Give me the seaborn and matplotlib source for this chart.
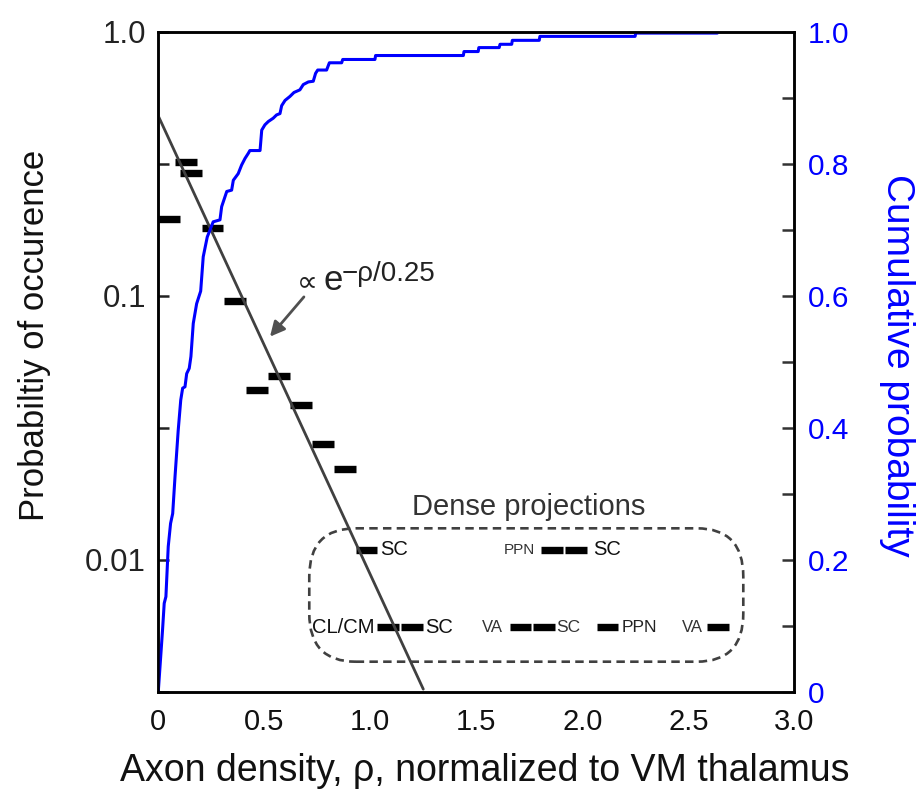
import numpy as np
import matplotlib
matplotlib.use("Agg")
import matplotlib.pyplot as plt
import seaborn as sns
from matplotlib.patches import FancyBboxPatch
from matplotlib.ticker import NullLocator

# ---- histogram of axon densities (probability per 0.1 bin) ----
hist_rho = [0.051, 0.130, 0.153, 0.256, 0.362, 0.465, 0.570, 0.672, 0.776, 0.880]
hist_prob = [0.196, 0.322, 0.291, 0.180, 0.0955, 0.0439, 0.0496, 0.0385, 0.0274, 0.0220]

# ---- dense projections (rare, high-density bins) ----
dense_rho = [0.983, 1.857, 1.971, 1.085, 1.197, 1.708, 1.819, 2.119, 2.641]
dense_prob = [0.0109, 0.0109, 0.0109, 0.00555, 0.00555, 0.00555, 0.00555, 0.00555, 0.00555]
bar_width = 0.102

# region labels placed beside the dense bars: text, rho anchor, prob level, alignment, size, colour
dense_text = ["SC", "PPN", "SC", "CL/CM", "SC", "VA", "SC", "PPN", "VA"]
dense_text_rho = [1.046, 1.777, 2.049, 1.022, 1.258, 1.627, 1.879, 2.186, 2.571]
dense_text_prob = [0.0109, 0.0109, 0.0109, 0.00555, 0.00555, 0.00555, 0.00555, 0.00555, 0.00555]
dense_text_ha = ["left", "right", "left", "right", "left", "right", "left", "left", "right"]
dense_text_size = [14.5, 11, 14.5, 14.5, 14.5, 12, 12.5, 12.5, 12]
dense_text_color = ["#111111", "#333333", "#111111", "#111111", "#111111", "#333333", "#333333", "#222222", "#333333"]

# ---- cumulative distribution ----
cdf_rho = [0.0, 0.020, 0.028, 0.036, 0.047, 0.058, 0.068, 0.079, 0.094, 0.106, 0.115,
           0.126, 0.134, 0.146, 0.154, 0.165, 0.181, 0.200, 0.212, 0.231, 0.259, 0.291,
           0.299, 0.323, 0.346, 0.354, 0.377, 0.393, 0.409, 0.425, 0.432, 0.480, 0.488,
           0.503, 0.519, 0.542, 0.558, 0.574, 0.582, 0.598, 0.621, 0.640, 0.668, 0.684,
           0.708, 0.731, 0.742, 0.752, 0.794, 0.807, 0.865, 0.870, 1.022, 1.025, 1.439,
           1.442, 1.509, 1.512, 1.608, 1.612, 1.667, 1.670, 1.797, 1.800, 2.249, 2.252,
           2.637]
cdf_val = [0.0, 0.093, 0.134, 0.144, 0.220, 0.255, 0.270, 0.326, 0.396, 0.442, 0.460,
           0.462, 0.482, 0.490, 0.508, 0.558, 0.588, 0.607, 0.659, 0.689, 0.712, 0.715,
           0.735, 0.758, 0.760, 0.775, 0.785, 0.798, 0.808, 0.816, 0.820, 0.820, 0.851,
           0.859, 0.864, 0.869, 0.874, 0.876, 0.888, 0.896, 0.902, 0.908, 0.912, 0.920,
           0.924, 0.925, 0.937, 0.942, 0.942, 0.953, 0.953, 0.958, 0.958, 0.964, 0.964,
           0.970, 0.970, 0.976, 0.976, 0.981, 0.981, 0.987, 0.987, 0.993, 0.993, 0.998,
           0.998]

# ---- exponential fit, prob ~ exp(-rho / 0.25) ----
fit_tau = 0.25
fit_amp = 0.48
fit_rho = np.linspace(0.0, 1.25, 60)
fit_prob = fit_amp * np.exp(-fit_rho / fit_tau)

sns.set_theme(style="white")
plt.rcParams["font.family"] = ["Liberation Sans", "DejaVu Sans"]

fig = plt.figure(figsize=(9.17, 7.90), dpi=100)
ax = fig.add_axes([0.1726, 0.1244, 0.6936, 0.8354])
ax.set_yscale("log")
ax.set_xlim(0, 3.0)
ax.set_ylim(10 ** -2.5, 1.0)

# histogram bars as short thick horizontal segments
all_rho = np.array(hist_rho + dense_rho)
all_prob = np.array(hist_prob + dense_prob)
ax.hlines(all_prob, all_rho - bar_width / 2, all_rho + bar_width / 2,
          colors="black", linewidth=5.3, zorder=3)

sns.lineplot(x=fit_rho, y=fit_prob, ax=ax, color="#404040", linewidth=2.0,
             sort=False, estimator=None, zorder=4)

for t, xr, yp, ha, fs, c in zip(dense_text, dense_text_rho, dense_text_prob,
                                dense_text_ha, dense_text_size, dense_text_color):
    ax.text(xr, yp, t, ha=ha, va="center", fontsize=fs, color=c, zorder=5)

# dashed rounded frame around dense projections
frame = FancyBboxPatch((0.2374, 0.0455), 0.6824, 0.2021,
                       boxstyle="round,pad=0,rounding_size=0.073",
                       transform=ax.transAxes, fill=False, edgecolor="#404040",
                       linewidth=1.9, linestyle=(0, (3.2, 2.0)), zorder=2)
ax.add_patch(frame)
ax.text(0.582, 0.268, "Dense projections", transform=ax.transAxes, ha="center",
        va="baseline", fontsize=21, color="#333333")

# fit annotation
ax.text(0.704, 10 ** -0.95, "\u221d", ha="center", va="center", fontsize=21,
        color="#222222", family=["DejaVu Sans"])
ax.text(0.777, 10 ** -0.978, "e", ha="left", va="baseline", fontsize=25, color="#222222")
ax.text(0.866, 10 ** -0.945, "\u2212\u03c1/0.25", ha="left", va="baseline",
        fontsize=20, color="#222222")
ax.annotate("", xy=(0.527, 0.070), xytext=(0.687, 0.099),
            arrowprops=dict(arrowstyle="-|>", color="#505050", lw=2,
                            mutation_scale=22, shrinkA=0, shrinkB=0))

# left axis styling
ax.set_yticks([10 ** -2.5, 0.01, 10 ** -1.5, 0.1, 10 ** -0.5, 1.0])
ax.set_yticklabels(["", "0.01", "", "0.1", "", "1.0"])
ax.yaxis.set_minor_locator(NullLocator())
ax.set_xticks([0, 0.5, 1.0, 1.5, 2.0, 2.5, 3.0])
ax.set_xticklabels(["0", "0.5", "1.0", "1.5", "2.0", "2.5", "3.0"])
ax.tick_params(axis="y", which="major", direction="in", length=8, width=1.8,
               labelsize=22.5, pad=9, colors="#222222", left=True)
ax.tick_params(axis="x", length=0, labelsize=21, pad=12, colors="#111111")
for s in ax.spines.values():
    s.set_visible(True)
    s.set_color("black")
    s.set_linewidth(1.8)
ax.set_xlabel("")
ax.set_ylabel("")

# right axis: cumulative probability
ax2 = ax.twinx()
sns.lineplot(x=cdf_rho, y=cdf_val, ax=ax2, color="#0000ff", linewidth=2.2,
             sort=False, estimator=None)
ax2.set_ylim(0, 1.0)
ax2.set_xlim(0, 3.0)
ax2.set_yticks(np.round(np.arange(0, 1.01, 0.1), 1))
ax2.set_yticklabels(["0", "", "0.2", "", "0.4", "", "0.6", "", "0.8", "", "1.0"])
ax2.tick_params(axis="y", direction="in", length=9, width=1.8, labelsize=21.5, pad=10,
                colors="#333333", labelcolor="#0000ff", right=True)
ax2.set_ylabel("")
for s in ax2.spines.values():
    s.set_visible(True)
    s.set_color("black")
    s.set_linewidth(1.8)

fig.text(0.529, 0.012, "Axon density, \u03c1, normalized to VM thalamus", ha="center",
         va="baseline", fontsize=27, color="#111111")
fig.text(0.038, 0.576, "Probabiltiy of occurence", rotation=90, ha="center",
         va="center", fontsize=25, color="#111111")
fig.text(0.978, 0.537, "Cumulative probability", rotation=270, ha="center",
         va="center", fontsize=28, color="#0000ff")

fig.savefig("out.png", dpi=100)
